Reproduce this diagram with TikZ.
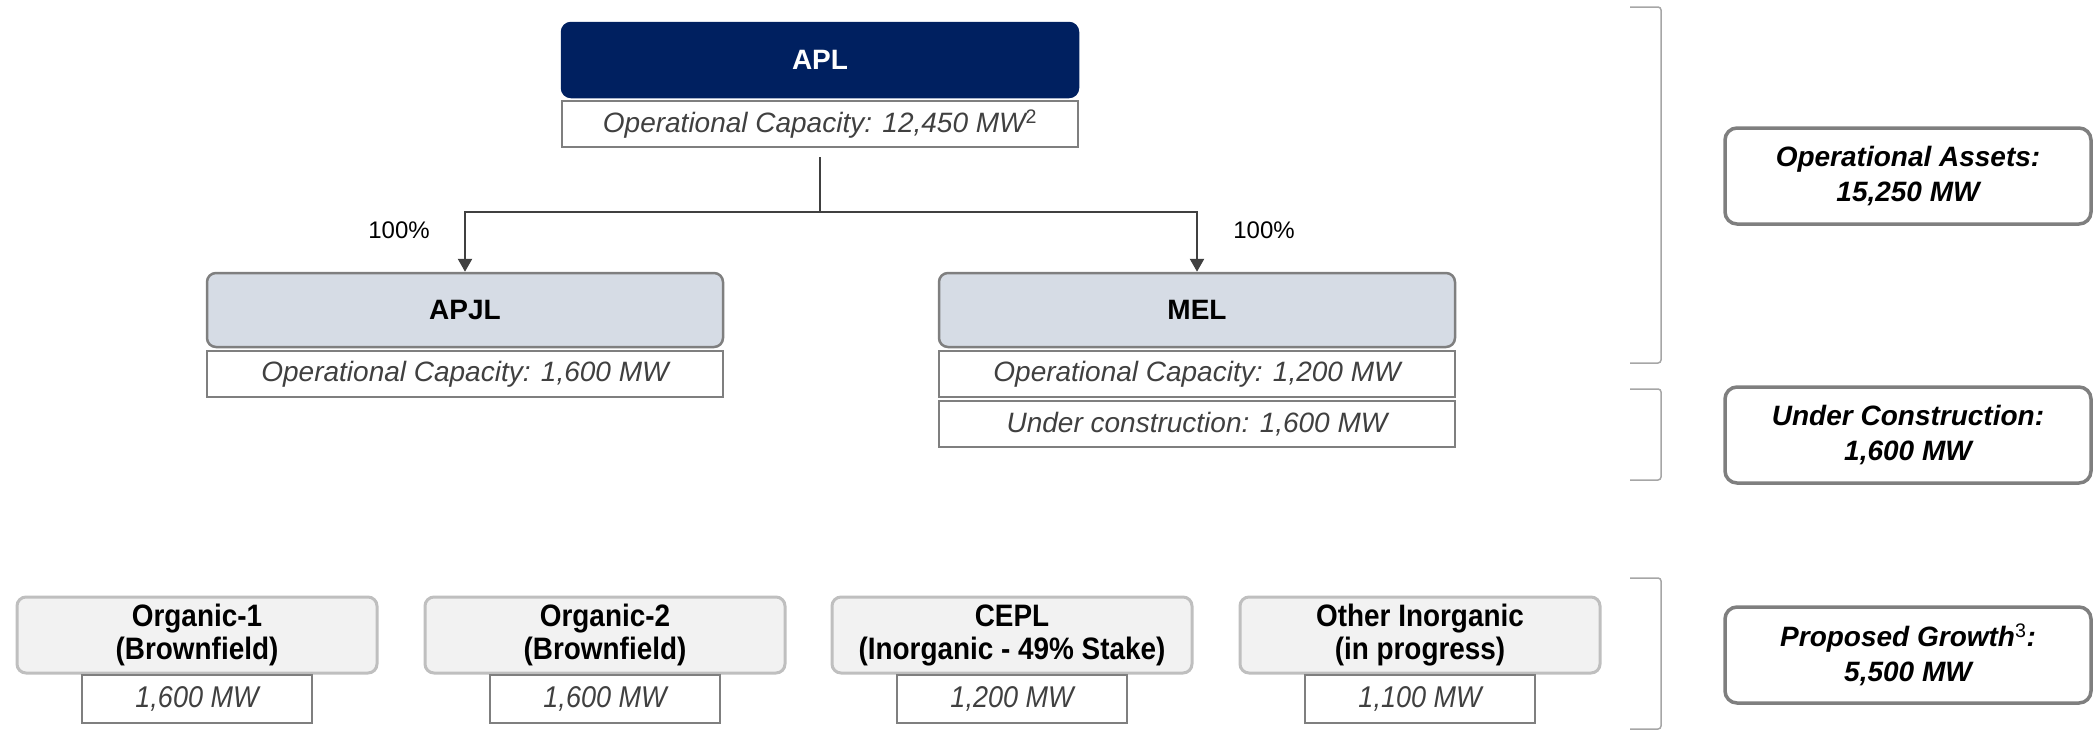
\documentclass[tikz,border=0pt]{standalone}
\usepackage{fontspec}
\setmainfont{Liberation Sans}
\newfontfamily\narrowsans[FakeStretch=0.9]{Liberation Sans}
\usetikzlibrary{positioning,arrows.meta}
\definecolor{navy}{HTML}{002060}
\definecolor{paleblue}{HTML}{D6DCE5}
\definecolor{boxgrey}{HTML}{7F7F7F}
\definecolor{lightgrey}{HTML}{BFBFBF}
\definecolor{textgrey}{HTML}{404040}
\definecolor{fillgrey}{HTML}{F2F2F2}

\begin{document}
\begin{tikzpicture}[x=1pt,y=-1pt,
  every node/.style={inner sep=0pt,align=center},
  entity/.style={draw=boxgrey,line width=2.5pt,rounded corners=9pt,fill=paleblue,
    minimum width=516pt,minimum height=74pt,font=\fontsize{28}{34}\selectfont\bfseries},
  parent/.style={entity,fill=navy,draw=navy,text=white},
  capacity/.style={draw=boxgrey,line width=2pt,fill=white,minimum width=516pt,
    minimum height=46pt,text=textgrey,font=\fontsize{28}{34}\selectfont\itshape},
  growth/.style={draw=lightgrey,line width=3pt,rounded corners=9pt,fill=fillgrey,
    minimum width=360pt,minimum height=76pt,font=\narrowsans\fontsize{31}{33}\selectfont\bfseries},
  growthcap/.style={capacity,minimum width=230pt,minimum height=48pt,
    font=\narrowsans\fontsize{30}{33}\selectfont\itshape},
  summary/.style={draw=boxgrey,line width=3.5pt,rounded corners=12pt,fill=white,
    minimum width=366pt,minimum height=96pt,font=\fontsize{28}{35}\selectfont\bfseries\itshape},
  pct/.style={font=\fontsize{24}{28}\selectfont},
  link/.style={draw=textgrey,line width=2.5pt},
  brace/.style={draw=black!35,line width=1.5pt,rounded corners=3pt}]
\useasboundingbox (0,0) rectangle (2095,731);

\node[parent] (apl) at (820,60) {APL};
\node[capacity,below=2pt of apl] (aplcap) {Operational Capacity: 12,450 MW\textsuperscript{\upshape 2}};

\node[entity] (apjl) at (465,310) {APJL};
\node[capacity,below=2pt of apjl] (apjlcap) {Operational Capacity: 1,600 MW};
\node[entity] (mel) at (1197,310) {MEL};
\node[capacity,below=2pt of mel] (melcap) {Operational Capacity: 1,200 MW};
\node[capacity,below=2pt of melcap] (melbuild) {Under construction: 1,600 MW};

\coordinate (split) at (820,212);
\draw[link] ([yshift=-9pt]aplcap.south) -- (split);
\draw[link,-{Triangle[width=14pt,length=13pt]}] (split) -| (apjl.north);
\draw[link,-{Triangle[width=14pt,length=13pt]}] (split) -| (mel.north);
\node[pct] (pctapjl) at (399,230) {100\%};
\node[pct] (pctmel) at (1264,230) {100\%};

\foreach \x/\name/\title/\mw in {197/orgone/{Organic-1\\(Brownfield)}/{1,600},
    605/orgtwo/{Organic-2\\(Brownfield)}/{1,600},
    1012/cepl/{CEPL\\(Inorganic - 49\% Stake)}/{1,200},
    1420/other/{Other Inorganic\\(in progress)}/{1,100}}{
  \node[growth] (\name) at (\x,635) {\title};
  \node[growthcap,below=-1pt of \name] (\name cap) {\mw{} MW};
}

\draw[brace] (1630,7) -| (1661,363) -- (1630,363);
\draw[brace] (1630,389) -| (1661,480) -- (1630,480);
\draw[brace] (1630,578) -| (1661,729) -- (1630,729);

\node[summary] (opassets) at (1908,176) {Operational Assets:\\15,250 MW};
\node[summary] (construction) at (1908,435) {Under Construction:\\1,600 MW};
\node[summary] (proposed) at (1908,655) {Proposed Growth\textsuperscript{\normalfont 3}:\\5,500 MW};
\end{tikzpicture}
\end{document}
